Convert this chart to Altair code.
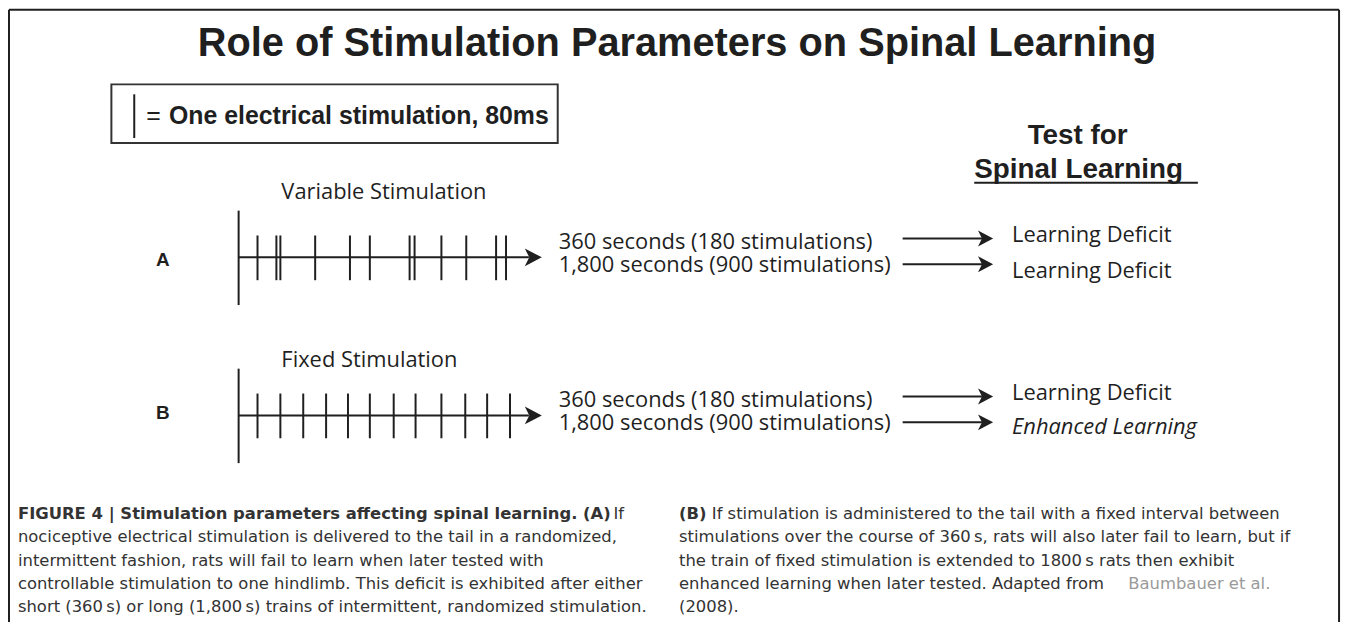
import altair as alt
import pandas as pd

# ---------------- canvas (page pixel coordinates) ----------------
W, H = 1348, 614
X0, Y0 = 8, 8
xs = alt.Scale(domain=[X0, X0 + W], range=[0, W], nice=False, zero=False)
ys = alt.Scale(domain=[Y0, Y0 + H], range=[0, H], nice=False, zero=False)

DARK = "#1f1f1f"
CAP = "#333333"
GREY = "#9a9a9a"
ARIAL = "Liberation Sans"
MYRIAD = "Open Sans"
CAPFONT = "DejaVu Sans"

# ---------------- data ----------------
title = "Role of Stimulation Parameters on Spinal Learning"
legend_eq = "="
legend_text = "One electrical stimulation, 80ms"
test_head = ["Test for", "Spinal Learning"]
panel_letters = ["A", "B"]
panel_titles = ["Variable Stimulation", "Fixed Stimulation"]
durations = ["360 seconds (180 stimulations)", "1,800 seconds (900 stimulations)"]
outcomes_A = ["Learning Deficit", "Learning Deficit"]
outcomes_B = ["Learning Deficit", "Enhanced Learning"]

# stimulation times along each train (pixel positions on the timeline)
variable_ticks = [259, 278, 282, 317, 352, 372, 412, 417, 444, 469, 499, 509]
fixed_ticks = [259, 282, 305, 328, 350, 372, 396, 418, 444, 468, 490, 513]

caption_left_bold = "FIGURE 4 | Stimulation parameters affecting spinal learning. (A)"
caption_left_first = "If"
caption_left = [
    "nociceptive electrical stimulation is delivered to the tail in a randomized,",
    "intermittent fashion, rats will fail to learn when later tested with",
    "controllable stimulation to one hindlimb. This deficit is exhibited after either",
    "short (360\u2009s) or long (1,800\u2009s) trains of intermittent, randomized stimulation.",
]
caption_right_bold = "(B)"
caption_right_first = "If stimulation is administered to the tail with a fixed interval between"
caption_right = [
    "stimulations over the course of 360\u2009s, rats will also later fail to learn, but if",
    "the train of fixed stimulation is extended to 1800\u2009s rats then exhibit",
    "enhanced learning when later tested. Adapted from",
    "(2008).",
]
caption_ref = "Baumbauer et al."

# ---------------- layout ----------------
panel_axis_y = [257, 416]
panel_offset = [0, 159]
cap_base = [520, 543.5, 567, 590.5, 614]


def text_layer(rows, font, size, weight="normal", style="normal", color=DARK, align="left"):
    df = pd.DataFrame(rows, columns=["x", "y", "t"])
    return alt.Chart(df).mark_text(
        font=font, fontSize=size, fontWeight=weight, fontStyle=style,
        color=color, align=align, baseline="alphabetic"
    ).encode(
        x=alt.X("x:Q", scale=xs, axis=None),
        y=alt.Y("y:Q", scale=ys, axis=None),
        text="t:N",
    )


# rules (lines)
rules = []
# frame (left, top, right)
rules += [(9, 9, 8, 640, 2), (9, 1347, 8, 8, 2), (1347, 1347, 8, 640, 2)]
# legend stimulation mark
rules += [(135, 135, 93, 137, 2)]
# underline of "Spinal Learning"
rules += [(980, 1205, 182, 182, 2)]
for i, ticks in enumerate([variable_ticks, fixed_ticks]):
    ay = panel_axis_y[i]
    rules.append((240, 240, ay - 47, ay + 48, 2))       # start bar
    rules.append((240, 532, ay, ay, 2))                 # time axis
    for t in ticks:
        rules.append((t, t, ay - 22, ay + 23, 2))       # stimuli
    off = panel_offset[i]
    rules.append((908, 988, 238 + off, 238 + off, 2))  # result arrows
    rules.append((908, 988, 264 + off, 264 + off, 2))
rules_df = pd.DataFrame(rules, columns=["x", "x2", "y", "y2", "sw"])
rule_layer = alt.Chart(rules_df).mark_rule(color=DARK).encode(
    x=alt.X("x:Q", scale=xs, axis=None), x2="x2:Q",
    y=alt.Y("y:Q", scale=ys, axis=None), y2="y2:Q",
    strokeWidth=alt.StrokeWidth("sw:Q", scale=None, legend=None),
)

# legend box
box_df = pd.DataFrame([{"x": 112, "x2": 561, "y": 83, "y2": 142}])
box_layer = alt.Chart(box_df).mark_rect(fill="#ffffff", stroke="#333333", strokeWidth=2).encode(
    x=alt.X("x:Q", scale=xs, axis=None), x2="x2:Q",
    y=alt.Y("y:Q", scale=ys, axis=None), y2="y2:Q",
)

# arrow heads
ARROW = "M1,0 L-0.9,-1 L-0.4,0 L-0.9,1 Z"
big_heads = pd.DataFrame([(545 - 9, ay) for ay in panel_axis_y], columns=["x", "y"])
small_heads = pd.DataFrame(
    [(999 - 8, y + off) for off in panel_offset for y in (238, 264)], columns=["x", "y"]
)
big_head_layer = alt.Chart(big_heads).mark_point(
    shape=ARROW, size=324, filled=True, color=DARK, opacity=1, strokeWidth=0
).encode(x=alt.X("x:Q", scale=xs, axis=None), y=alt.Y("y:Q", scale=ys, axis=None))
small_head_layer = alt.Chart(small_heads).mark_point(
    shape=ARROW, size=256, filled=True, color=DARK, opacity=1, strokeWidth=0
).encode(x=alt.X("x:Q", scale=xs, axis=None), y=alt.Y("y:Q", scale=ys, axis=None))

layers = [box_layer, rule_layer, big_head_layer, small_head_layer]

layers.append(text_layer([(681, 54, title)], ARIAL, 40, "bold", align="center"))
layers.append(text_layer([(147, 123, legend_eq)], ARIAL, 25))
layers.append(text_layer([(170, 123, legend_text)], ARIAL, 25, "bold"))
layers.append(text_layer([(1084, 143, test_head[0])], ARIAL, 28, "bold", align="center"))
layers.append(text_layer([(980, 177, test_head[1])], ARIAL, 28, "bold"))
layers.append(text_layer([(157, 266, panel_letters[0]), (157, 420, panel_letters[1])], ARIAL, 19, "bold"))
layers.append(text_layer([(283, 198, panel_titles[0]), (283, 367, panel_titles[1])], MYRIAD, 22))
dur_rows = []
for off in panel_offset:
    dur_rows += [(562, 249 + off, durations[0]), (562, 272 + off, durations[1])]
layers.append(text_layer(dur_rows, MYRIAD, 22))
layers.append(text_layer(
    [(1018, 242, outcomes_A[0]), (1018, 278, outcomes_A[1]), (1018, 242 + 159, outcomes_B[0])],
    MYRIAD, 22))
layers.append(text_layer([(1018, 278 + 157, outcomes_B[1])], MYRIAD, 22, style="italic"))

# caption
layers.append(text_layer([(18, cap_base[0], caption_left_bold)], CAPFONT, 16.5, "bold", color=CAP))
layers.append(text_layer([(617, cap_base[0], caption_left_first)], CAPFONT, 16.5, color=CAP))
layers.append(text_layer([(18, cap_base[i + 1], s) for i, s in enumerate(caption_left)], CAPFONT, 16.5, color=CAP))
layers.append(text_layer([(683, cap_base[0], caption_right_bold)], CAPFONT, 16.5, "bold", color=CAP))
layers.append(text_layer([(716, cap_base[0], caption_right_first)], CAPFONT, 16.5, color=CAP))
layers.append(text_layer([(683, cap_base[i + 1], s) for i, s in enumerate(caption_right)], CAPFONT, 16.5, color=CAP))
layers.append(text_layer([(1135, cap_base[3], caption_ref)], CAPFONT, 16.5, color=GREY))

chart = alt.layer(*layers).properties(
    width=W, height=H, padding=0, autosize=alt.AutoSizeParams(type="none"),
    background="#ffffff",
).configure_view(stroke=None)

chart.save("out.html", embed_options={"renderer": "svg", "actions": False})
